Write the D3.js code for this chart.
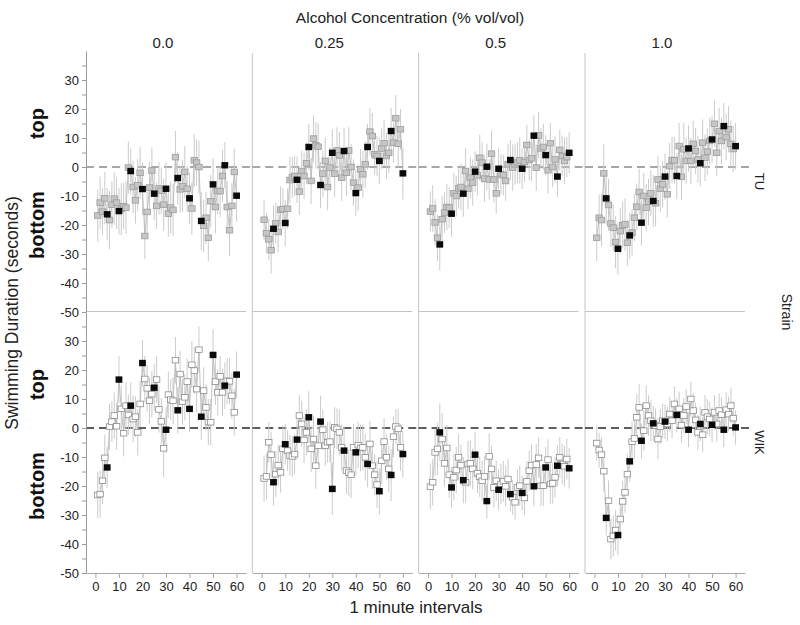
<!DOCTYPE html>
<html><head><meta charset="utf-8">
<script src="https://cdn.jsdelivr.net/npm/d3@7"></script>
<style>body{margin:0;background:#fff}svg{display:block;font-family:"Liberation Sans",Arial,sans-serif}</style>
</head><body><svg id="c" width="800" height="625"></svg>
<script>
// ---- categories / ticks ----
const concentrations = ["0.0", "0.25", "0.5", "1.0"];
const strains = ["TU", "WIK"];
const xTicks = [0, 10, 20, 30, 40, 50, 60];
const yTicks = [35, 30, 25, 20, 15, 10, 5, 0, -5, -10, -15, -20, -25, -30, -35, -40, -45, -50];

// ---- series values (minute 1..60) ----
const TU_00 = [-16.7,-12.3,-15.4,-10.8,-16.3,-18.3,-13.0,-10.9,-12.3,-15.2,-14.5,-13.5,-14.0,-0.2,-1.4,-6.9,-11.5,-6.3,-2.0,-7.6,-23.8,-15.5,-7.1,-1.2,-9.2,-13.4,-7.4,-8.2,-13.0,-7.5,-16.1,-14.0,-14.8,3.4,-3.8,-7.7,-6.6,-1.7,-7.5,-10.8,-14.3,2.3,1.5,0.0,-18.6,-20.3,-17.5,-24.4,-11.8,-6.0,-13.8,-8.3,-8.3,-3.1,0.6,-13.8,-21.8,-13.4,-1.7,-9.9];
const TU_025 = [-18.2,-22.8,-24.9,-28.7,-21.3,-19.4,-22.4,-14.7,-14.5,-19.3,-14.4,-4.5,-3.6,-3.1,-4.4,-8.5,-1.4,-3.1,1.3,6.9,-4.8,9.8,7.5,7.0,-6.2,-2.3,2.1,-6.9,-0.2,4.9,-2.3,5.7,4.0,-3.7,5.5,-2.0,5.7,0.0,-5.4,-9.0,-7.1,-0.8,-2.5,0.9,6.9,12.2,10.7,4.4,3.8,2.1,6.4,8.2,3.8,4.9,12.4,8.4,16.8,8.0,13.0,-2.2];
const TU_05 = [-15.4,-14.3,-19.1,-24.4,-26.7,-18.0,-15.7,-13.8,-14.0,-16.1,-9.1,-10.0,-7.4,-6.9,-9.2,-1.4,-7.5,-3.7,-5.4,-1.6,-2.9,3.2,1.5,-4.0,0.1,-4.3,4.6,-4.3,-9.1,-0.6,-2.5,-2.8,-4.8,0.9,2.4,-0.2,0.9,1.5,2.3,-0.6,1.7,7.6,2.4,3.0,10.8,-0.2,10.9,6.4,6.9,4.1,-1.1,8.2,0.0,2.6,-3.3,5.9,3.8,2.1,3.4,4.9];
const TU_10 = [-24.4,-17.5,-18.3,-2.2,-10.8,-13.1,-19.5,-20.9,-25.9,-28.2,-22.1,-20.1,-19.8,-26.1,-23.6,-22.6,-17.5,-13.7,-8.6,-19.2,-10.0,-14.0,-12.0,-9.1,-11.7,-12.5,-4.3,-7.5,-6.0,-3.3,-9.4,0.3,2.4,2.3,-3.1,7.2,-3.4,6.1,2.1,6.4,2.1,8.0,5.5,2.6,1.3,8.4,3.2,5.3,9.0,9.5,14.9,4.9,12.4,9.0,14.1,10.3,13.0,8.0,6.2,7.2];
const WIK_00 = [-23.1,-22.8,-18.2,-10.3,-13.6,0.5,2.2,4.3,0.6,16.7,6.6,-1.8,7.7,4.5,7.7,3.1,3.9,-1.5,8.3,22.4,16.9,13.7,9.4,11.7,13.9,16.7,6.4,2.3,-7.0,-0.6,11.5,9.8,9.4,23.4,6.1,18.6,9.1,10.6,16.0,6.6,21.8,19.8,13.4,27.0,3.9,12.9,7.1,2.0,2.0,25.2,16.0,12.3,17.8,12.3,14.6,16.3,16.1,11.1,5.4,18.4];
const WIK_025 = [-17.4,-16.7,-4.9,-9.2,-18.7,-15.9,-12.8,-15.3,-7.2,-5.6,-7.8,-9.5,-9.8,-9.0,-4.0,4.3,1.4,-4.1,-1.5,3.7,-7.2,-3.8,-13.0,-6.1,2.2,-0.6,-6.1,-4.9,-4.7,-21.0,0.2,-0.3,-1.5,-6.7,-7.8,-14.7,-15.4,-16.1,-6.7,-8.4,-5.9,-6.9,-6.7,-10.1,-12.4,-5.5,-13.0,-16.1,-19.5,-21.8,-11.3,-4.7,-10.1,-14.1,-16.2,-3.0,0.5,-0.3,-6.7,-9.0];
const WIK_05 = [-20.2,-18.7,-8.4,-7.2,-1.5,-3.8,-12.2,-6.9,-16.1,-20.5,-17.0,-14.5,-10.1,-12.8,-18.0,-18.7,-12.4,-12.2,-14.1,-9.2,-15.6,-16.8,-18.2,-16.7,-25.2,-9.8,-14.1,-20.5,-18.2,-21.3,-19.3,-18.4,-20.1,-17.6,-22.8,-23.9,-25.6,-20.5,-19.9,-22.4,-24.1,-18.4,-14.7,-12.8,-20.1,-12.6,-10.3,-19.9,-19.9,-13.6,-10.9,-19.3,-19.1,-17.0,-13.0,-10.1,-12.4,-13.2,-10.7,-13.9];
const WIK_10 = [-5.2,-7.6,-9.2,-14.9,-31.0,-25.1,-38.3,-37.2,-35.2,-36.9,-31.4,-25.3,-22.2,-15.9,-11.5,-4.7,-3.6,3.7,7.1,-4.4,-0.9,7.7,4.3,2.5,1.6,0.8,-3.8,0.5,2.5,2.2,1.4,4.8,2.5,8.3,4.5,6.6,1.0,4.3,7.4,-0.6,10.0,6.0,2.8,-1.5,1.4,-2.3,5.4,3.9,3.1,1.1,5.4,1.4,6.0,4.6,-0.6,6.3,4.8,7.7,3.4,0.2];

// ---- error bar half-lengths ----
const TU_00_se = [9,9,8,9,9,10,8,9,9,8,9,8,9,9,8,9,8,9,9,9,8,8,9,8,9,8,9,8,9,9,8,9,9,9,9,8,9,9,8,9,9,9,8,9,10,9,9,8,9,9,9,8,9,9,8,9,9,8,8,9];
const TU_025_se = [7,7,7,8,8,7,7,8,7,8,7,8,7,7,8,8,7,8,7,8,8,8,8,8,8,8,8,8,7,8,8,8,8,8,8,8,8,8,8,8,8,7,8,8,8,8,8,7,7,8,7,8,8,7,8,7,8,8,7,9];
const TU_05_se = [7,8,8,8,9,8,7,8,7,8,7,7,7,8,8,8,7,7,8,7,7,8,7,8,8,7,8,8,7,7,7,7,7,7,7,8,7,7,8,7,7,7,7,8,7,8,8,7,8,7,8,7,7,8,7,7,7,8,7,7];
const TU_10_se = [8,8,9,10,9,9,8,8,9,9,8,8,9,8,8,8,8,8,8,8,8,8,8,8,9,8,8,8,8,8,8,8,8,8,8,8,8,9,8,8,8,8,8,8,8,8,8,8,8,8,8,8,8,8,8,8,8,8,8,8];
const WIK_00_se = [8,8,8,8,7,8,7,8,8,8,8,8,8,7,8,8,7,8,8,8,8,8,8,8,8,8,8,8,10,8,8,7,8,8,8,8,8,8,8,8,8,8,8,8,8,8,8,8,8,9,8,8,7,8,8,8,8,8,8,8];
const WIK_025_se = [8,8,7,8,8,8,7,7,8,7,7,7,7,7,7,7,8,8,8,9,8,8,8,8,9,7,7,7,7,9,7,7,8,8,8,8,8,8,8,8,8,8,8,8,8,8,8,7,8,8,8,8,8,8,9,7,6,7,8,8];
const WIK_05_se = [8,8,8,9,10,9,8,8,8,7,8,8,8,7,8,7,8,8,7,8,7,7,7,7,6,8,8,7,7,7,7,7,7,7,6,6,6,6,7,6,6,7,7,7,7,7,7,7,7,7,7,7,7,7,7,7,7,7,7,7];
const WIK_10_se = [6,6,6,7,6,7,7,7,7,7,7,7,7,7,7,7,7,8,8,6,7,7,7,7,6,6,7,6,6,6,6,6,6,6,6,6,6,6,6,6,6,6,6,6,6,6,6,6,6,6,6,6,6,6,6,6,6,6,6,6];

const seriesByRow = [[TU_00, TU_025, TU_05, TU_10], [WIK_00, WIK_025, WIK_05, WIK_10]];
const seByRow = [[TU_00_se, TU_025_se, TU_05_se, TU_10_se], [WIK_00_se, WIK_025_se, WIK_05_se, WIK_10_se]];

// ---- layout ----
const svg = d3.select("#c");
const panelLefts = [86, 252.3, 418.6, 585];
const panelW = 160;
const rowTops = [51, 312];
const rowH = 261;

const rowStyle = [
  {fill: "#c6c6c6", stroke: "#9c9c9c", zero: "#8a8a8a"},
  {fill: "#ffffff", stroke: "#8c8c8c", zero: "#2a2a2a"}
];

rowTops.forEach((top, r) => {
  const y = d3.scaleLinear().domain([-50, 40]).range([top + rowH, top]);
  panelLefts.forEach((left, c) => {
    const x = d3.scaleLinear().domain([-4, 64]).range([left, left + panelW]);
    const g = svg.append("g");
    const vals = seriesByRow[r][c];
    const se = seByRow[r][c];
    const pts = vals.map((v, i) => ({t: i + 1, v: v, e: se[i]}));

    if (c > 0) {
      g.append("line").attr("x1", left).attr("x2", left)
        .attr("y1", top + (r === 0 ? 2 : 0)).attr("y2", top + rowH)
        .attr("stroke", "#c4c4c4").attr("stroke-width", 1);
    }
    if (r === 0) {
      g.append("line").attr("x1", left).attr("x2", left + panelW)
        .attr("y1", top + rowH - 0.5).attr("y2", top + rowH - 0.5)
        .attr("stroke", "#c4c4c4").attr("stroke-width", 1);
    }
    g.append("line").attr("x1", left).attr("x2", left + 166)
      .attr("y1", y(0)).attr("y2", y(0))
      .attr("stroke", rowStyle[r].zero).attr("stroke-width", 1.4)
      .attr("stroke-dasharray", "8,5");

    g.selectAll("line.err").data(pts).join("line").attr("class", "err")
      .attr("x1", d => x(d.t)).attr("x2", d => x(d.t))
      .attr("y1", d => y(d.v - d.e)).attr("y2", d => y(d.v + d.e))
      .attr("stroke", "#cbcbcb").attr("stroke-width", 1);

    g.append("path").datum(pts)
      .attr("d", d3.line().x(d => x(d.t)).y(d => y(d.v)))
      .attr("fill", "none").attr("stroke", "#b5b5b5").attr("stroke-width", 0.8);

    const normal = pts.filter(d => d.t % 5 !== 0);
    const marked = pts.filter(d => d.t % 5 === 0);
    g.selectAll("rect.n").data(normal).join("rect").attr("class", "n")
      .attr("x", d => x(d.t) - 3.2).attr("y", d => y(d.v) - 2.8)
      .attr("width", 6.4).attr("height", 5.6)
      .attr("fill", rowStyle[r].fill).attr("stroke", rowStyle[r].stroke).attr("stroke-width", 0.8);
    g.selectAll("rect.m").data(marked).join("rect").attr("class", "m")
      .attr("x", d => x(d.t) - 3.4).attr("y", d => y(d.v) - 3.2)
      .attr("width", 6.8).attr("height", 6.4)
      .attr("fill", "#0a0a0a");

    if (r === 1) {
      const ax = g.append("g").attr("transform", `translate(0,${top + rowH})`)
        .call(d3.axisBottom(x).tickValues(xTicks).tickSize(5).tickSizeOuter(0).tickPadding(4));
      ax.select(".domain").attr("stroke", "#a8a8a8");
      ax.selectAll(".tick line").attr("stroke", "#a8a8a8");
      ax.selectAll(".tick text").attr("fill", "#222").style("font-size", "13px")
        .style("font-family", "'Liberation Sans', Arial, sans-serif");
    }
  });

  const ay = svg.append("g").attr("transform", `translate(${panelLefts[0]},0)`)
    .call(d3.axisLeft(y).tickValues(yTicks).tickSize(4).tickSizeOuter(0).tickPadding(3)
      .tickFormat(d => d % 10 === 0 ? d : ""));
  ay.select(".domain").attr("stroke", "#9a9a9a");
  ay.selectAll(".tick line").attr("stroke", "#9a9a9a");
  ay.selectAll(".tick text").attr("fill", "#222").style("font-size", "13px")
    .style("font-family", "'Liberation Sans', Arial, sans-serif");

  svg.append("text").attr("transform", `translate(${44},${y(15)}) rotate(-90)`)
    .attr("text-anchor", "middle").style("font-size", "20px").style("font-weight", "bold")
    .attr("fill", "#111").text("top");
  svg.append("text").attr("transform", `translate(${44},${y(-20)}) rotate(-90)`)
    .attr("text-anchor", "middle").style("font-size", "20px").style("font-weight", "bold")
    .attr("fill", "#111").text("bottom");

  svg.append("text").attr("transform", `translate(${755},${y(-5)}) rotate(90)`)
    .attr("text-anchor", "middle").style("font-size", "13px").attr("fill", "#222").text(strains[r]);
});

panelLefts.forEach((left, c) => {
  svg.append("text").attr("x", left + panelW / 2 - 3).attr("y", 48)
    .attr("text-anchor", "middle").style("font-size", "15px").attr("fill", "#222")
    .text(concentrations[c]);
});

svg.append("text").attr("x", 410).attr("y", 23).attr("text-anchor", "middle")
  .style("font-size", "15.5px").attr("fill", "#222").text("Alcohol Concentration (% vol/vol)");
svg.append("text").attr("x", 416).attr("y", 613).attr("text-anchor", "middle")
  .style("font-size", "17px").attr("fill", "#222").text("1 minute intervals");
svg.append("text").attr("transform", "translate(18,313) rotate(-90)").attr("text-anchor", "middle")
  .style("font-size", "17.5px").attr("fill", "#222").text("Swimming Duration (seconds)");
svg.append("text").attr("transform", "translate(782,312) rotate(90)").attr("text-anchor", "middle")
  .style("font-size", "14px").attr("fill", "#222").text("Strain");
</script></body></html>
